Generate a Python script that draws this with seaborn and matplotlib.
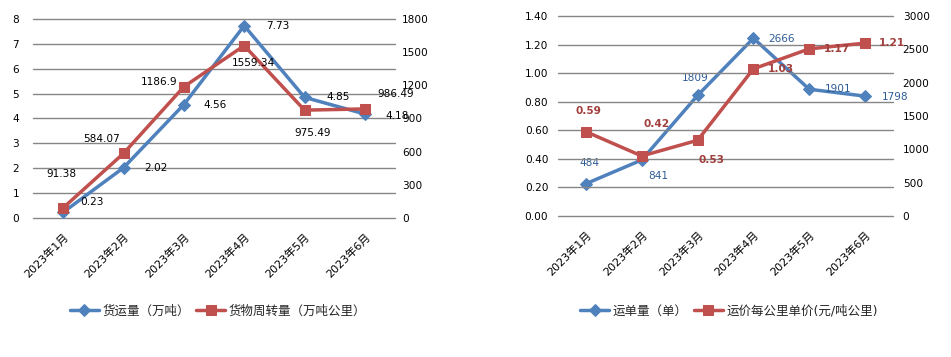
import pandas as pd
import matplotlib
matplotlib.use("Agg")
import matplotlib.pyplot as plt
import seaborn as sns

sns.set_style("white")
plt.rcParams['font.family'] = ['DejaVu Sans', 'Noto Sans CJK SC']
plt.rcParams['axes.unicode_minus'] = False

# 数据
months = ['2023年1月', '2023年2月', '2023年3月', '2023年4月', '2023年5月', '2023年6月']
freight_volume = [0.23, 2.02, 4.56, 7.73, 4.85, 4.18]            # 货运量（万吨）
freight_turnover = [91.38, 584.07, 1186.9, 1559.34, 975.49, 986.49]  # 货物周转量（万吨公里）
waybills = [484, 841, 1809, 2666, 1901, 1798]                    # 运单量（单）
unit_price = [0.59, 0.42, 0.53, 1.03, 1.17, 1.21]                # 运价每公里单价

df1 = pd.DataFrame({'月份': months, '货运量': freight_volume, '周转量': freight_turnover})
df2 = pd.DataFrame({'月份': months, '运单量': waybills, '单价': unit_price})

BLUE = '#4F81BD'
RED = '#C0504D'
GRID = '#868686'
FS = 7.6

fig = plt.figure(figsize=(9.51, 3.57), dpi=100)


def style_axes(ax):
    for s in ax.spines.values():
        s.set_visible(False)
    ax.tick_params(axis='both', length=0, labelsize=FS, colors='black')
    ax.set_xlabel('')
    ax.set_ylabel('')


def add_grid(ax):
    ax.yaxis.grid(True, color=GRID, lw=1)
    ax.xaxis.grid(False)
    for gl in ax.get_ygridlines():
        gl.set_clip_on(False)


def label_points(ax, vals, offsets, fmt, color, bold=False):
    for i, (v, off) in enumerate(zip(vals, offsets)):
        ax.annotate(fmt(v), (i, v), xytext=off, textcoords='offset pixels',
                    ha='center', va='center', fontsize=FS, color=color,
                    fontweight='bold' if bold else 'normal', zorder=10)


# 左图
ax1 = fig.add_axes([0.0347, 0.3894, 0.3807, 0.5574])
ax1b = ax1.twinx()
sns.lineplot(data=df1, x='月份', y='货运量', ax=ax1, color=BLUE, lw=2.5,
             marker='D', markersize=6, markeredgecolor=BLUE, sort=False, label='货运量（万吨）', legend=False)
sns.lineplot(data=df1, x='月份', y='周转量', ax=ax1b, color=RED, lw=2.5,
             marker='s', markersize=7.5, markeredgecolor=RED, sort=False, label='货物周转量（万吨公里）', legend=False)
ax1.set_ylim(0, 8)
ax1.set_yticks(range(0, 9))
ax1b.set_ylim(0, 1800)
ax1b.set_yticks(range(0, 1801, 300))
ax1.set_xlim(-0.5, 5.5)
add_grid(ax1)
for a in (ax1, ax1b):
    style_axes(a)
ax1.tick_params(axis='y', pad=10)
ax1b.tick_params(axis='y', pad=5)

label_points(ax1, freight_volume,
             [(29, 10), (32, 0), (31, 0), (34, 0), (34, 0), (32, -2)],
             lambda v: f'{v:.2f}', 'black')
label_points(ax1b, freight_turnover,
             [(-2, 34), (-22, 14), (-25, 5), (9, -17), (8, -23), (31, 15)],
             lambda v: f'{v:g}', 'black')

# 右图
ax2 = fig.add_axes([0.5868, 0.395, 0.3522, 0.5602])
ax2b = ax2.twinx()
sns.lineplot(data=df2, x='月份', y='运单量', ax=ax2b, color=BLUE, lw=2.5,
             marker='D', markersize=6, markeredgecolor=BLUE, sort=False, label='运单量（单）', legend=False)
sns.lineplot(data=df2, x='月份', y='单价', ax=ax2, color=RED, lw=2.5,
             marker='s', markersize=7.5, markeredgecolor=RED, sort=False, label='运价每公里单价(元/吨公里)', legend=False)
ax2.set_zorder(ax2b.get_zorder() + 1)
ax2.patch.set_visible(False)
ax2.set_ylim(0, 1.4)
ax2.set_yticks([i * 0.2 for i in range(8)])
ax2.set_yticklabels([f'{i * 0.2:.2f}' for i in range(8)])
ax2b.set_ylim(0, 3000)
ax2b.set_yticks(range(0, 3001, 500))
ax2.set_xlim(-0.5, 5.5)
add_grid(ax2)
for a in (ax2, ax2b):
    style_axes(a)
ax2.tick_params(axis='y', pad=7)
ax2b.tick_params(axis='y', pad=7)

label_points(ax2b, waybills,
             [(3, 21), (16, -16), (-2, 17), (28, -1), (29, 0), (30, -1)],
             lambda v: f'{v}', '#2E5C96')
label_points(ax2, unit_price,
             [(2, 21), (15, 32), (14, -20), (27, 0), (28, 0), (27, 0)],
             lambda v: f'{v:.2f}', '#A03F3C', bold=True)

# x 轴标签
for a in (ax1, ax2):
    for lab in a.get_xticklabels():
        lab.set_rotation(45)
        lab.set_ha('right')
        lab.set_rotation_mode('anchor')
        lab.set_fontsize(8)
    a.tick_params(axis='x', pad=10)

# 图例
h1, l1 = ax1.get_legend_handles_labels()
h2, l2 = ax1b.get_legend_handles_labels()
fig.legend(h1 + h2, l1 + l2, loc='center', bbox_to_anchor=(218 / 951, 1 - 311 / 357),
           ncol=2, frameon=False, fontsize=9, handlelength=2.3, columnspacing=0.5, handletextpad=0.3)
h3, l3 = ax2b.get_legend_handles_labels()
h4, l4 = ax2.get_legend_handles_labels()
fig.legend(h3 + h4, l3 + l4, loc='center', bbox_to_anchor=(729 / 951, 1 - 311 / 357),
           ncol=2, frameon=False, fontsize=9, handlelength=2.3, columnspacing=0.5, handletextpad=0.3)

fig.savefig('out.png', dpi=100)
